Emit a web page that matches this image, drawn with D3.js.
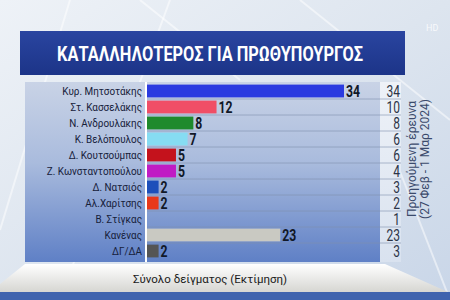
<!DOCTYPE html>
<html><head><meta charset="utf-8">
<script src="https://cdn.jsdelivr.net/npm/d3@7"></script>
<style>body{margin:0;overflow:hidden}svg{display:block}</style>
</head><body>
<script>
const categories = ["Κυρ. Μητσοτάκης","Στ. Κασσελάκης","Ν. Ανδρουλάκης","Κ. Βελόπουλος","Δ. Κουτσούμπας","Ζ. Κωνσταντοπούλου","Δ. Νατσιός","Αλ.Χαρίτσης","Β. Στίγκας","Κανένας","ΔΓ/ΔΑ"];
const current = [34,12,8,7,5,5,2,2,0,23,2];
const previous = [34,10,8,6,6,4,3,2,1,23,3];
const colors = ["#2b3be0","#f04e66","#1f8a2c","#86dcf2","#c4121c","#c01cc4","#1d4fba","#e8381a","#999999","#c9c9c2","#555555"];
const title = "ΚΑΤΑΛΛΗΛΟΤΕΡΟΣ ΓΙΑ ΠΡΩΘΥΠΟΥΡΓΟΣ";
const footer = "Σύνολο δείγματος (Εκτίμηση)";
const sideLines = ["Προηγούμενη έρευνα","(27 Φεβ - 1 Μαρ 2024)"];

(function(){
const W=450,H=300;
const svg=d3.select("body").append("svg").attr("width",W).attr("height",H);
const defs=svg.append("defs");
function lg(id,stops,x2,y2){const g=defs.append("linearGradient").attr("id",id).attr("x1",0).attr("y1",0).attr("x2",x2).attr("y2",y2);stops.forEach(s=>g.append("stop").attr("offset",s[0]).attr("stop-color",s[1]));}
lg("bg",[[0,"#eef2f7"],[0.5,"#dde5ef"],[1,"#c9d6e8"]],1,1);
lg("title",[[0,"#2a45a0"],[1,"#1c3488"]],0,1);
lg("panel",[[0,"#c9d3e6"],[0.45,"#a9bbdd"],[1,"#5f80c6"]],0,1);
lg("foot",[[0,"#ffffff"],[1,"#d6d6d2"]],0,1);
lg("prev",[[0,"#eef2f8"],[1,"#d9e2ef"]],0,1);

svg.append("rect").attr("width",W).attr("height",H).attr("fill","url(#bg)");
[[0,230,70,0],[60,300,170,0],[140,0,240,80],[300,0,450,120],[380,120,450,300]].forEach(l=>svg.append("line").attr("x1",l[0]).attr("y1",l[1]).attr("x2",l[2]).attr("y2",l[3]).attr("stroke","#ffffff").attr("stroke-opacity",0.5).attr("stroke-width",2));

svg.append("rect").attr("x",20).attr("y",31).attr("width",385).attr("height",44).attr("fill","url(#title)");
svg.append("text").attr("x",57).attr("y",61).attr("fill","#fff")
  .attr("font-family","Roboto,sans-serif").attr("font-weight","bold").attr("font-size",20)
  .attr("textLength",306).attr("lengthAdjust","spacingAndGlyphs").text(title);
svg.append("text").attr("x",426).attr("y",31).attr("fill","#fff").attr("fill-opacity",0.8).attr("font-family","Roboto,sans-serif").attr("font-size",9).text("HD");

const pTop=82,pBottom=262;
svg.append("rect").attr("x",25).attr("y",pTop).attr("width",355).attr("height",pBottom-pTop).attr("fill","url(#panel)");
svg.append("rect").attr("x",380).attr("y",pTop).attr("width",21).attr("height",pBottom-pTop).attr("fill","url(#prev)");

const y=d3.scaleBand().domain(categories).range([pTop+1,pBottom-3]).paddingInner(0.2).paddingOuter(0.1);
const x=d3.scaleLinear().domain([0,34]).range([147,344]);

categories.forEach((c,i)=>{ if(i===0) return;
  const yy=y(c)-y.step()*y.paddingInner()/2;
  svg.append("line").attr("x1",147).attr("x2",401).attr("y1",yy).attr("y2",yy).attr("stroke","#7f8fae").attr("stroke-opacity",0.6).attr("stroke-width",1);
});

svg.append("line").attr("x1",146).attr("x2",146).attr("y1",pTop).attr("y2",pBottom).attr("stroke","#ffffff").attr("stroke-width",2);

const ax=svg.append("g").attr("transform","translate(142,0)").call(d3.axisLeft(y).tickSize(0).tickPadding(0));
ax.select(".domain").remove();
ax.selectAll("text").attr("font-family","Roboto,sans-serif").attr("font-size",11).attr("fill","#16203a").attr("transform","scale(0.9,1)");

svg.selectAll("rect.bar").data(categories).enter().append("rect").attr("class","bar")
  .attr("x",x(0)).attr("y",d=>y(d)).attr("height",y.bandwidth())
  .attr("width",(d,i)=>x(current[i])-x(0)).attr("fill",(d,i)=>colors[i]);

svg.selectAll("text.val").data(categories.filter((d,i)=>current[i]>0)).enter().append("text").attr("class","val")
  .attr("transform",d=>`translate(${x(current[categories.indexOf(d)])+2},${y(d)+y.bandwidth()/2+6}) scale(0.72,1)`)
  .attr("font-family","Roboto,sans-serif").attr("font-weight","bold").attr("font-size",17).attr("fill","#111827")
  .text(d=>current[categories.indexOf(d)]);

svg.selectAll("text.prev").data(categories).enter().append("text").attr("class","prev")
  .attr("transform",d=>`translate(400,${y(d)+y.bandwidth()/2+5.5}) scale(0.75,1)`).attr("text-anchor","end")
  .attr("font-family","Roboto,sans-serif").attr("font-size",16).attr("fill","#2c3446")
  .text((d,i)=>previous[i]);

const st=svg.append("text").attr("transform","translate(416,159) rotate(-90)").attr("text-anchor","middle")
  .attr("font-family","Roboto,sans-serif").attr("font-size",12).attr("fill","#3b4a6b");
sideLines.forEach((s,i)=>st.append("tspan").attr("x",0).attr("dy",i?13:0).text(s));

svg.append("path").attr("d","M0,284 L25,264 L385,264 L448,292 L0,292 Z").attr("fill","url(#foot)");
svg.append("rect").attr("x",0).attr("y",292).attr("width",W).attr("height",8).attr("fill","#3f63ae");
svg.append("text").attr("x",210).attr("y",283).attr("text-anchor","middle").attr("font-family","Roboto,sans-serif").attr("font-size",11.5).attr("fill","#1a1a1a").text(footer);
})();
</script>
</body></html>
